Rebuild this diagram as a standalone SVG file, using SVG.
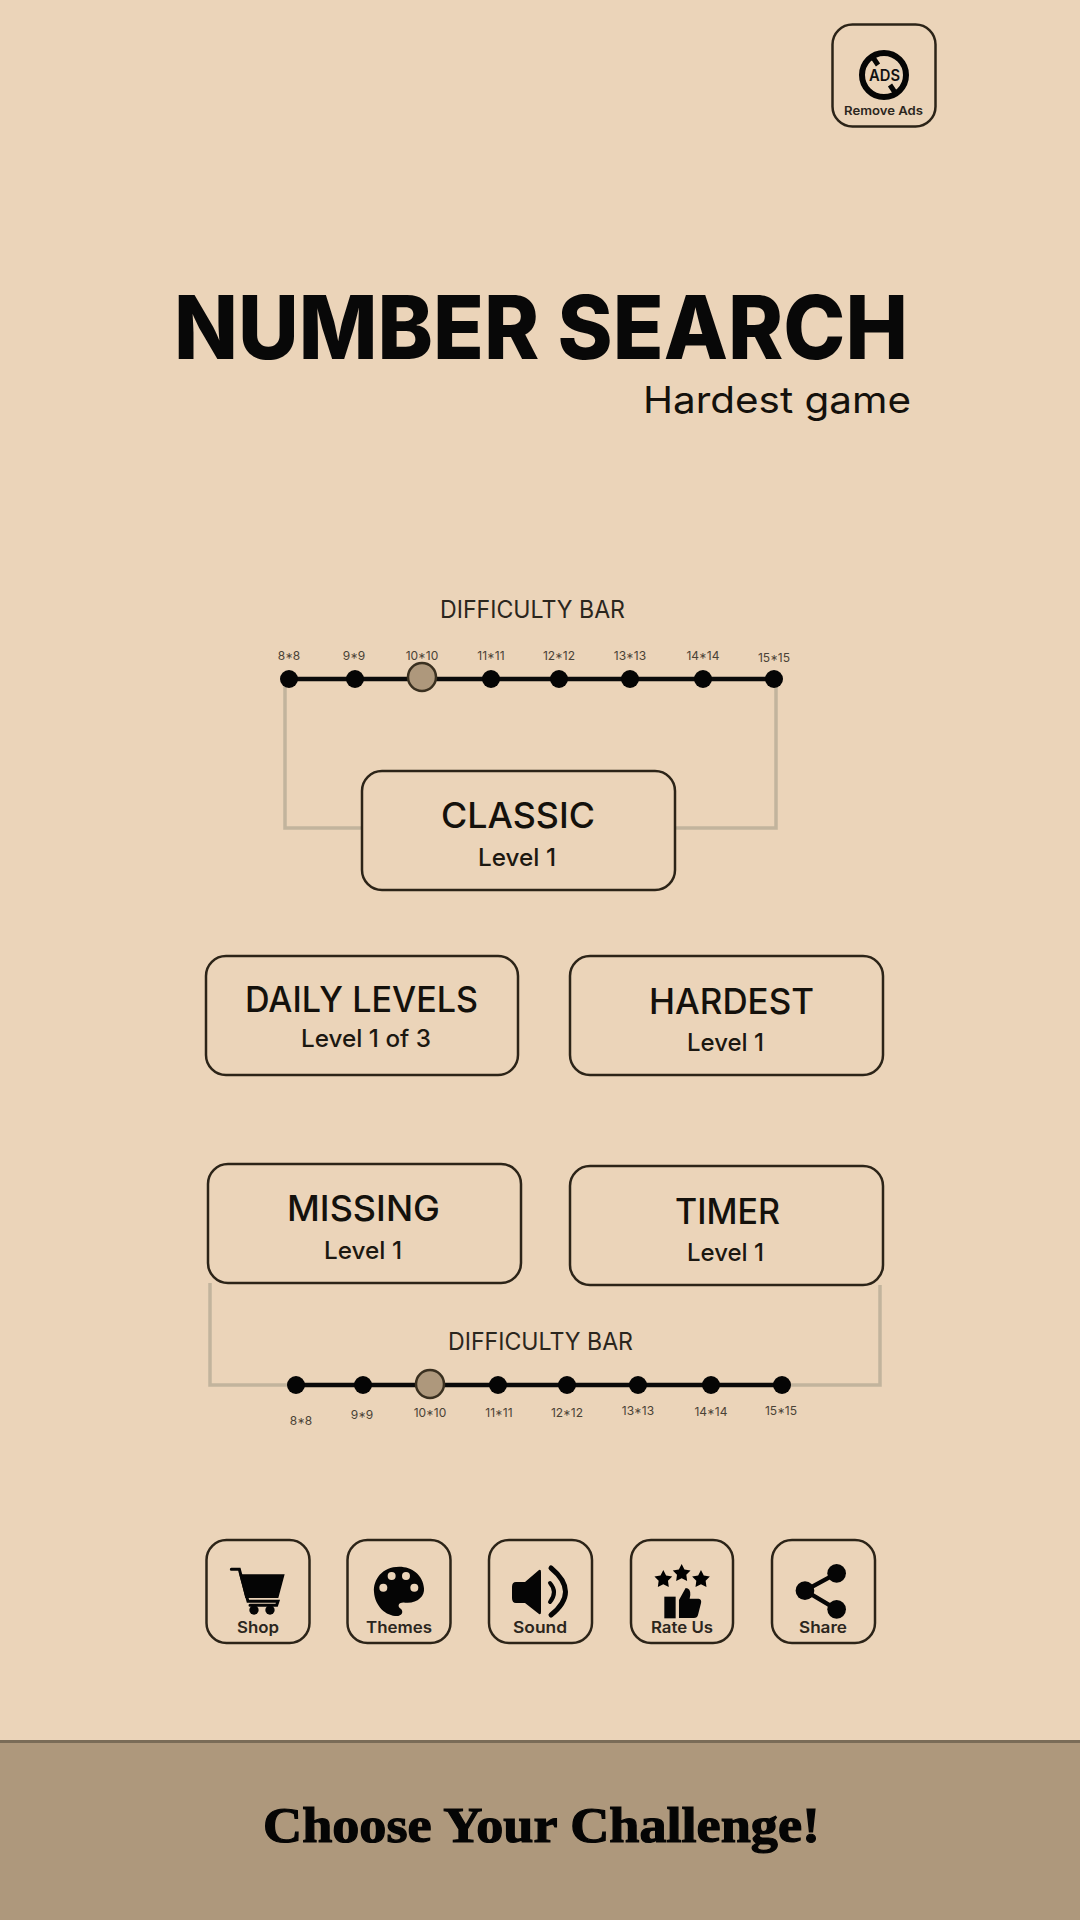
<svg xmlns="http://www.w3.org/2000/svg" xmlns:xlink="http://www.w3.org/1999/xlink" width="1080" height="1920" viewBox="0 0 1080 1920">
<style>
text{font-family:"Inter","Liberation Sans",sans-serif;fill:#111;text-anchor:start}
.box{fill:#ebd4b9;stroke:#2c2418;stroke-width:2.5}
.t1{font-size:35px;font-weight:500;fill:#14110c}
.t2{font-size:24px;font-weight:500;fill:#1c1811}
.db{font-size:24px;font-weight:400;fill:#2b261d}
.sz{font-size:12px;font-weight:400;fill:#4a4236;text-anchor:middle}
.il{font-size:16px;font-weight:600;fill:#2b261d}
.conn{fill:none;stroke:#c2b49d;stroke-width:3.500}
.bar{stroke:#0a0a0a;stroke-width:4.500}
.dot{fill:#050505}
.sel{fill:#ae987c;stroke:#3a3020;stroke-width:2.5}
.ic{fill:#050505}
.icl{fill:none;stroke:#050505;stroke-linecap:round}
</style>
<defs>
<polygon id="star" points="0,-1 .3,-.4 .951,-.309 .5,.15 .588,.809 0,.52 -.588,.809 -.5,.15 -.951,-.309 -.3,-.4"/>
</defs>
<rect width="1080" height="1920" fill="#ebd4b9"/>

<g id="connectors">
<path class="conn" d="M285 679V828H362"/>
<path class="conn" d="M776 679V828H675"/>
<path class="conn" d="M210 1283V1385H296"/>
<path class="conn" d="M880 1285V1385H782"/>
</g>

<g id="remove-ads">
<rect class="box" x="832.500" y="24.500" width="103" height="102" rx="20"/>
<circle cx="884" cy="75" r="22" fill="none" stroke="#050505" stroke-width="6"/>
<path d="M872 56l6 9M890 85l6 9" stroke="#050505" stroke-width="5" fill="none"/>
<text x="869" y="81" textLength="31" lengthAdjust="spacingAndGlyphs" style="font-size:16px;font-weight:600">ADS</text>
<text class="il" x="844" y="115" textLength="79" lengthAdjust="spacingAndGlyphs" style="font-size:12px">Remove Ads</text>
</g>

<g id="title">
<text x="174" y="359" textLength="734" lengthAdjust="spacingAndGlyphs" style="font-size:88px;font-weight:800;fill:#080808">NUMBER SEARCH</text>
<text x="643" y="413" textLength="268" lengthAdjust="spacingAndGlyphs" style="font-size:37px;font-weight:400;fill:#14110c">Hardest game</text>
</g>

<g id="difficulty-bar-top">
<text class="db" x="440" y="618" textLength="185" lengthAdjust="spacingAndGlyphs">DIFFICULTY BAR</text>
<line class="bar" x1="289" y1="679" x2="774" y2="679"/>
<circle class="dot" cx="289" cy="679" r="9"/><circle class="dot" cx="355" cy="679" r="9"/>
<circle class="sel" cx="422" cy="677" r="14"/>
<circle class="dot" cx="491" cy="679" r="9"/><circle class="dot" cx="559" cy="679" r="9"/>
<circle class="dot" cx="630" cy="679" r="9"/><circle class="dot" cx="703" cy="679" r="9"/>
<circle class="dot" cx="774" cy="679" r="9"/>
<text class="sz" x="289" y="660">8*8</text><text class="sz" x="354" y="660">9*9</text>
<text class="sz" x="422" y="660">10*10</text><text class="sz" x="491" y="660">11*11</text>
<text class="sz" x="559" y="660">12*12</text><text class="sz" x="630" y="660">13*13</text>
<text class="sz" x="703" y="660">14*14</text><text class="sz" x="774" y="662">15*15</text>
</g>

<g id="classic">
<rect class="box" x="362" y="771" width="313" height="119" rx="20"/>
<text class="t1" x="441" y="828" textLength="154" lengthAdjust="spacingAndGlyphs">CLASSIC</text>
<text class="t2" x="478" y="866" textLength="78" lengthAdjust="spacingAndGlyphs">Level 1</text>
</g>
<g id="daily-levels">
<rect class="box" x="206" y="956" width="312" height="119" rx="20"/>
<text class="t1" x="245" y="1012" textLength="233" lengthAdjust="spacingAndGlyphs">DAILY LEVELS</text>
<text class="t2" x="301" y="1047" textLength="130" lengthAdjust="spacingAndGlyphs">Level 1 of 3</text>
</g>
<g id="hardest">
<rect class="box" x="570" y="956" width="313" height="119" rx="20"/>
<text class="t1" x="649" y="1014" textLength="165" lengthAdjust="spacingAndGlyphs">HARDEST</text>
<text class="t2" x="687" y="1051" textLength="77" lengthAdjust="spacingAndGlyphs">Level 1</text>
</g>
<g id="missing">
<rect class="box" x="208" y="1164" width="313" height="119" rx="20"/>
<text class="t1" x="287" y="1221" textLength="153" lengthAdjust="spacingAndGlyphs">MISSING</text>
<text class="t2" x="324" y="1259" textLength="78" lengthAdjust="spacingAndGlyphs">Level 1</text>
</g>
<g id="timer">
<rect class="box" x="570" y="1166" width="313" height="119" rx="20"/>
<text class="t1" x="675" y="1224" textLength="105" lengthAdjust="spacingAndGlyphs">TIMER</text>
<text class="t2" x="687" y="1261" textLength="77" lengthAdjust="spacingAndGlyphs">Level 1</text>
</g>

<g id="difficulty-bar-bottom">
<text class="db" x="448" y="1350" textLength="185" lengthAdjust="spacingAndGlyphs">DIFFICULTY BAR</text>
<line class="bar" x1="296" y1="1385" x2="782" y2="1385"/>
<circle class="dot" cx="296" cy="1385" r="9"/><circle class="dot" cx="363" cy="1385" r="9"/>
<circle class="sel" cx="430" cy="1384" r="14"/>
<circle class="dot" cx="498" cy="1385" r="9"/><circle class="dot" cx="567" cy="1385" r="9"/>
<circle class="dot" cx="638" cy="1385" r="9"/><circle class="dot" cx="711" cy="1385" r="9"/>
<circle class="dot" cx="782" cy="1385" r="9"/>
<text class="sz" x="301" y="1425">8*8</text><text class="sz" x="362" y="1419">9*9</text>
<text class="sz" x="430" y="1417">10*10</text><text class="sz" x="499" y="1417">11*11</text>
<text class="sz" x="567" y="1417">12*12</text><text class="sz" x="638" y="1415">13*13</text>
<text class="sz" x="711" y="1416">14*14</text><text class="sz" x="781" y="1415">15*15</text>
</g>

<g id="shop">
<rect class="box" x="206.500" y="1540" width="103" height="103" rx="20"/>
<g transform="translate(190 1520) scale(.3333)">
<path class="ic" d="M148 163H284L265 234H166Z"/>
<path class="icl" d="M124 148H148L174 244H264L260 256H180" stroke-width="9"/>
<circle class="ic" cx="192" cy="270" r="14"/><circle class="ic" cx="240" cy="270" r="14"/>
</g>
<text class="il" x="237" y="1633" textLength="42" lengthAdjust="spacingAndGlyphs">Shop</text>
</g>
<g id="themes">
<rect class="box" x="347.500" y="1540" width="103" height="103" rx="20"/>
<g transform="translate(190 1520) scale(.3333)">
<path class="ic" d="M628 140C575 140 550 180 552 215C555 260 590 290 625 288C640 285 640 270 630 265C620 255 630 245 645 248C680 252 705 230 702 205C700 165 665 140 628 140Z"/>
<circle cx="605" cy="168" r="12" fill="#ebd4b9"/><circle cx="648" cy="168" r="12" fill="#ebd4b9"/>
<circle cx="580" cy="203" r="12" fill="#ebd4b9"/><circle cx="673" cy="203" r="12" fill="#ebd4b9"/>
</g>
<text class="il" x="366" y="1633" textLength="66" lengthAdjust="spacingAndGlyphs">Themes</text>
</g>
<g id="sound">
<rect class="box" x="489" y="1540" width="103" height="103" rx="20"/>
<path class="ic" d="M516 1582H525L539 1570Q541 1569 541 1572V1612Q541 1615 539 1614L525 1603H516Q512 1603 512 1598V1587Q512 1582 516 1582Z"/>
<path class="icl" d="M550 1583Q558 1592 550 1602" stroke-width="4"/>
<path class="icl" d="M551 1568Q580 1592 551 1615" stroke-width="5"/>
<text class="il" x="513" y="1633" textLength="54" lengthAdjust="spacingAndGlyphs">Sound</text>
</g>
<g id="rate-us">
<rect class="box" x="631" y="1540" width="102" height="103" rx="20"/>
<g transform="translate(520 1520) scale(.3333)">
<use xlink:href="#star" transform="translate(430 178) scale(28)"/>
<use xlink:href="#star" transform="translate(485 160) scale(28)"/>
<use xlink:href="#star" transform="translate(543 178) scale(28)"/>
<path class="ic" d="M433 230H467V295H433Z"/>
<path class="ic" d="M477 240L497 204Q512 204 511 225L509 236H536Q546 238 543 250L534 285Q532 294 522 294H477Z"/>
</g>
<text class="il" x="651" y="1633" textLength="62" lengthAdjust="spacingAndGlyphs">Rate Us</text>
</g>
<g id="share">
<rect class="box" x="772" y="1540" width="103" height="103" rx="20"/>
<g transform="translate(520 1520) scale(.3333)">
<path class="icl" d="M950 160L855 212L950 268" stroke-width="13"/>
<circle class="ic" cx="950" cy="160" r="28"/><circle class="ic" cx="855" cy="212" r="28"/><circle class="ic" cx="950" cy="268" r="28"/>
</g>
<text class="il" x="799" y="1633" textLength="48" lengthAdjust="spacingAndGlyphs">Share</text>
</g>

<g id="banner">
<rect x="0" y="1741" width="1080" height="179" fill="#ae987c"/>
<rect x="0" y="1740" width="1080" height="3" fill="#7a6c58"/>
<text x="263" y="1842" textLength="557" lengthAdjust="spacingAndGlyphs" style="font-family:'Liberation Serif',serif;font-size:50px;font-weight:700;fill:#050505;stroke:#050505;stroke-width:1.200">Choose Your Challenge!</text>
</g>
</svg>
